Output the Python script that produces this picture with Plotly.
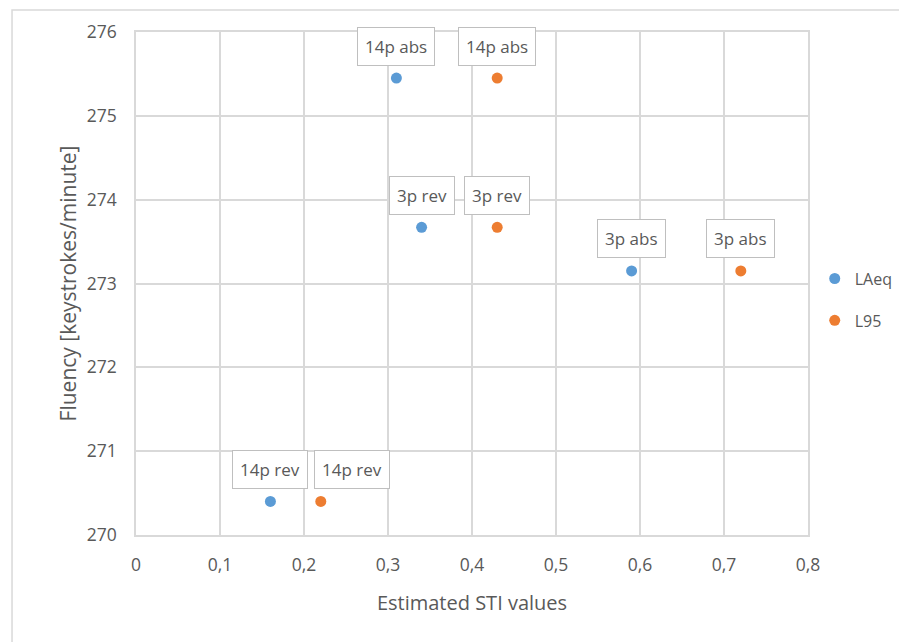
import plotly.graph_objects as go

# Data
labels = ["14p rev", "14p abs", "3p rev", "3p abs"]
laeq_x = [0.16, 0.31, 0.34, 0.59]
l95_x = [0.22, 0.43, 0.43, 0.72]
fluency = [270.4, 275.45, 273.67, 273.15]

x_ticks = [0, 0.1, 0.2, 0.3, 0.4, 0.5, 0.6, 0.7, 0.8]
x_tick_text = ["0", "0,1", "0,2", "0,3", "0,4", "0,5", "0,6", "0,7", "0,8"]
y_ticks = [270, 271, 272, 273, 274, 275, 276]

blue = "#5B9BD5"
orange = "#ED7D31"
grid = "#D9D9D9"
txt = "#595959"
font = "Open Sans"

# label nudges (px) to avoid overlapping data labels
label_xshift = {("L95", "14p rev"): 31}

fig = go.Figure()
series = [("LAeq", laeq_x, blue, "a"), ("L95", l95_x, orange, "b")]
for name, xs, col, grp in series:
    fig.add_trace(go.Scatter(x=xs, y=fluency, mode="markers", name=name,
                             legendgroup=grp,
                             marker=dict(color=col, size=11)))

annotations = []
for name, xs, col, grp in series:
    for x, y, lab in zip(xs, fluency, labels):
        annotations.append(dict(
            x=x, y=y, xref="x", yref="y", text=lab, showarrow=False,
            yshift=32, xshift=label_xshift.get((name, lab), 0),
            xanchor="center", yanchor="middle",
            font=dict(family=font, size=17, color=txt),
            bordercolor="#BFBFBF", borderwidth=1, borderpad=7, bgcolor="white"))

fig.update_layout(
    width=907, height=642,
    margin=dict(l=128, r=107, t=24, b=115, autoexpand=False),
    paper_bgcolor="white", plot_bgcolor="white",
    separators=", ",
    font=dict(family=font, size=17, color=txt),
    annotations=annotations,
    legend=dict(x=1.01, y=0.468, xanchor="left", yanchor="middle",
                font=dict(family=font, size=16, color=txt),
                tracegroupgap=18, itemwidth=30),
    shapes=[dict(type="rect", xref="paper", yref="paper",
                 x0=-0.1845, x1=1.16, y0=-0.23, y1=1.0437,
                 line=dict(color=grid, width=1.5), layer="below")],
    xaxis=dict(range=[0, 0.8], tickvals=x_ticks, ticktext=x_tick_text,
               showgrid=True, gridcolor=grid, gridwidth=1.5,
               showline=True, linecolor=grid, linewidth=1.5, mirror=True,
               zeroline=False, ticks="outside", ticklen=13,
               tickcolor="rgba(0,0,0,0)",
               tickfont=dict(family=font, size=17.5, color=txt),
               title=dict(text="Estimated STI values", standoff=21,
                          font=dict(family=font, size=20, color=txt))),
    yaxis=dict(range=[270, 276], tickvals=y_ticks,
               showgrid=True, gridcolor=grid, gridwidth=1.5,
               showline=True, linecolor=grid, linewidth=1.5, mirror=True,
               zeroline=False, ticks="outside", ticklen=14,
               tickcolor="rgba(0,0,0,0)",
               tickfont=dict(family=font, size=17.5, color=txt),
               title=dict(text="Fluency [keystrokes/minute]", standoff=4,
                          font=dict(family=font, size=21, color=txt))),
)

fig.write_html("out.html")
